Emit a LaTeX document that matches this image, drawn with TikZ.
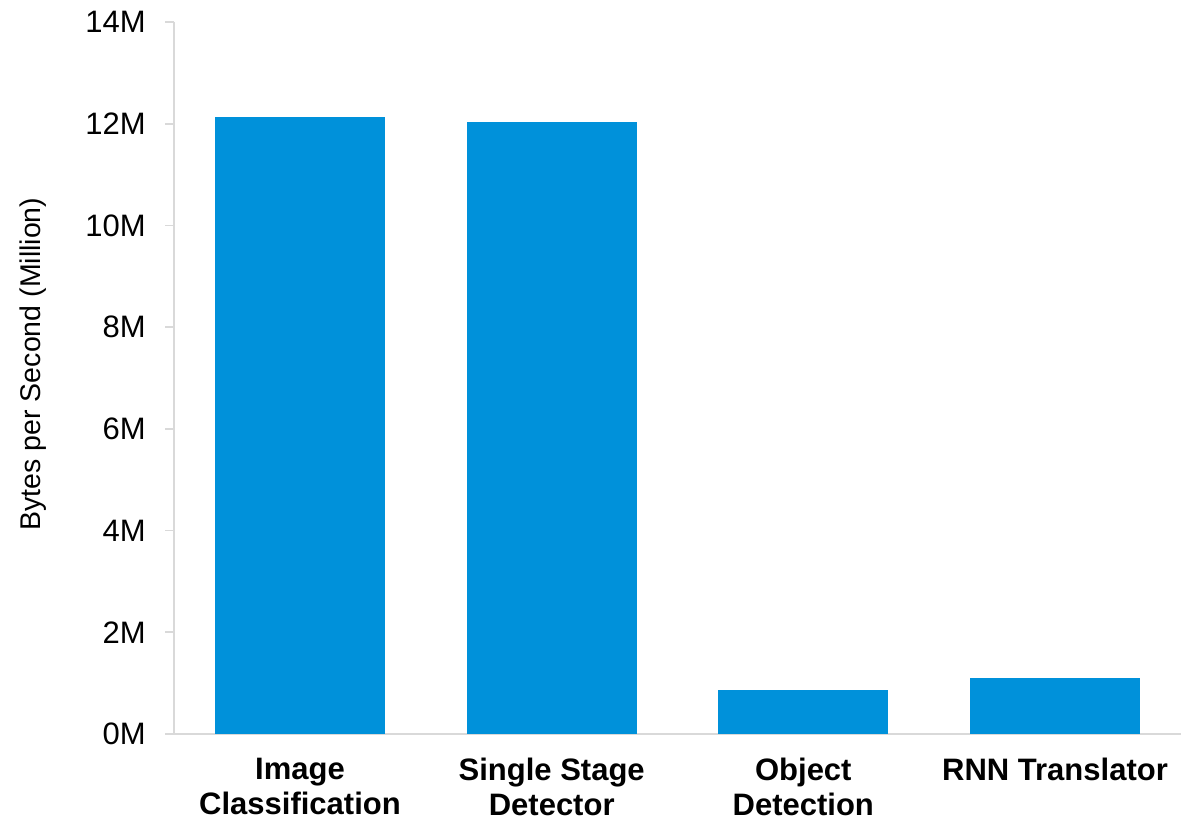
\documentclass[tikz,border=0pt]{standalone}
\usepackage{fontspec}
\setmainfont{Liberation Sans}
\usetikzlibrary{positioning}

\definecolor{barblue}{RGB}{0,145,218}
\definecolor{axisgray}{RGB}{217,217,217}

\tikzset{
  bar/.style={rectangle,fill=barblue,draw=none,inner sep=0pt,minimum width=170pt,anchor=south},
  axisline/.style={axisgray,line width=1.6pt},
  ticklabel/.style={anchor=east,inner sep=0pt,font=\fontsize{31}{37}\selectfont},
  catlabel/.style={anchor=north,inner sep=0pt,align=center,font=\fontsize{31}{35}\selectfont\bfseries},
}

\begin{document}
\begin{tikzpicture}[x=1pt,y=1pt]
  \useasboundingbox (-174,-87) rectangle (1025,734);

  % axes (one million = 50.857pt)
  \coordinate (origin) at (0,0);
  \coordinate (ytop) at (0,712);
  \coordinate (xend) at (1007,0);
  \draw[axisline] (ytop) -- (origin);
  \draw[axisline] (-9,0) -- (xend);
  \foreach \m in {2,4,...,14} {
    \draw[axisline] (-9,{\m*50.857}) -- (0,{\m*50.857});
  }
  \foreach \m in {0,2,...,14} {
    \node[ticklabel] (tick\m) at (-28,{\m*50.857}) {\m M};
  }
  \node[rotate=90,font=\fontsize{28.5}{34}\selectfont] (ytitle) at (-141,370) {Bytes per Second (Million)};

  % bars
  \node[bar,minimum height={12.13*50.857pt}] (imgbar) at (126,0) {};
  \node[bar,minimum height={12.03*50.857pt}] (ssdbar) at (377.7,0) {};
  \node[bar,minimum height={0.87*50.857pt}] (objbar) at (629.3,0) {};
  \node[bar,minimum height={1.10*50.857pt}] (rnnbar) at (881,0) {};

  % category names
  \node[catlabel] (imglbl) at (126,-24) {Image\\Classification};
  \node[catlabel] (ssdlbl) at (377.7,-24) {Single Stage\\Detector};
  \node[catlabel] (objlbl) at (629.3,-24) {Object\\Detection};
  \node[catlabel] (rnnlbl) at (881,-24) {RNN Translator};
\end{tikzpicture}
\end{document}
